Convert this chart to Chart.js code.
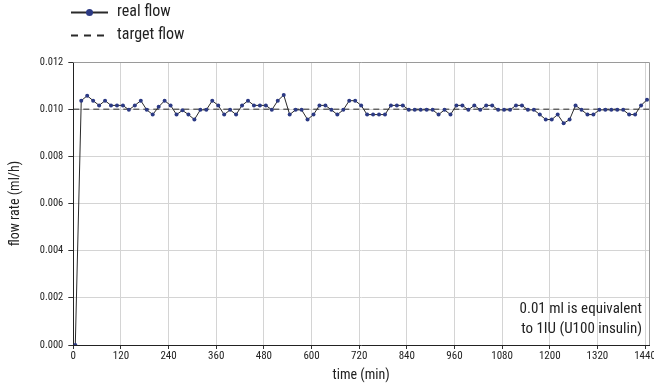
<!DOCTYPE html>
<html lang="en">
<head>
  <meta charset="UTF-8">
  <title>Flow rate</title>
  <script src="https://cdn.jsdelivr.net/npm/chart.js"></script>
  <style>
    html, body { margin: 0; padding: 0; background: #fff; }
    #wrap { width: 654px; height: 386px; position: relative; }
  </style>
</head>
<body>
<div id="wrap"><canvas id="grafico"></canvas></div>

<script>
  // time of each reading (min)
  const timeMin = [
    5,
    20, 35, 50, 65, 80, 95, 110, 125, 140, 155,
    170, 185, 200, 215, 230, 245, 260, 275, 290, 305,
    320, 335, 350, 365, 380, 395, 410, 425, 440, 455,
    470, 485, 500, 515, 530, 545, 560, 575, 590, 605,
    620, 635, 650, 665, 680, 695, 710, 725, 740, 755,
    770, 785, 800, 815, 830, 845, 860, 875, 890, 905,
    920, 935, 950, 965, 980, 995, 1010, 1025, 1040, 1055,
    1070, 1085, 1100, 1115, 1130, 1145, 1160, 1175, 1190, 1205,
    1220, 1235, 1250, 1265, 1280, 1295, 1310, 1325, 1340, 1355,
    1370, 1385, 1400, 1415, 1430, 1445
  ];
  // real flow (ml/h)
  const realFlow = [
    0,
    0.01036, 0.01057, 0.01036, 0.01016, 0.01036, 0.01016, 0.01016, 0.01016, 0.00997, 0.01016,
    0.01036, 0.00997, 0.00977, 0.01010, 0.01036, 0.01016, 0.00977, 0.00995, 0.00977, 0.00956,
    0.00997, 0.00997, 0.01036, 0.01016, 0.00977, 0.00997, 0.00977, 0.01016, 0.01036, 0.01016,
    0.01016, 0.01016, 0.00997, 0.01036, 0.01060, 0.00977, 0.00997, 0.00997, 0.00956, 0.00977,
    0.01016, 0.01016, 0.00997, 0.00977, 0.00997, 0.01036, 0.01036, 0.01016, 0.00977, 0.00977,
    0.00977, 0.00977, 0.01016, 0.01016, 0.01016, 0.00997, 0.00997, 0.00997, 0.00997, 0.00997,
    0.00977, 0.00997, 0.00977, 0.01016, 0.01016, 0.00997, 0.01016, 0.00997, 0.01016, 0.01016,
    0.00997, 0.00997, 0.00997, 0.01016, 0.01016, 0.00997, 0.00997, 0.00977, 0.00956, 0.00956,
    0.00977, 0.00940, 0.00956, 0.01016, 0.00997, 0.00977, 0.00977, 0.00997, 0.00997, 0.00997,
    0.00997, 0.00997, 0.00977, 0.00977, 0.01016, 0.01040
  ];
  const targetTime = [0, 1450];
  const targetFlow = [0.010, 0.010];

  const xTicks = [0, 120, 240, 360, 480, 600, 720, 840, 960, 1080, 1200, 1320, 1440];
  const yTicks = [0, 0.002, 0.004, 0.006, 0.008, 0.010, 0.012];

  const nota = ["0.01 ml is equivalent", "to 1IU (U100 insulin)"];

  const FUENTE = "'Roboto Condensed', 'Liberation Sans Narrow', 'DejaVu Sans Condensed', 'Liberation Sans', sans-serif";
  const AZUL = "#2c3a84";
  const LINEA = "#2a2a2a";

  const extras = {
    id: "extras",
    afterDraw(chart) {
      const ctx = chart.ctx;
      const a = chart.chartArea;
      ctx.save();
      // marco derecho / superior
      ctx.strokeStyle = "#9a9a9a";
      ctx.lineWidth = 1;
      ctx.beginPath();
      ctx.moveTo(a.left, a.top + 0.5);
      ctx.lineTo(a.right + 0.5, a.top + 0.5);
      ctx.lineTo(a.right + 0.5, a.bottom);
      ctx.stroke();

      // leyenda
      ctx.strokeStyle = LINEA;
      ctx.lineWidth = 2;
      ctx.beginPath();
      ctx.moveTo(71, 12.5);
      ctx.lineTo(108, 12.5);
      ctx.stroke();
      ctx.fillStyle = AZUL;
      ctx.beginPath();
      ctx.arc(89.5, 12.5, 3.5, 0, Math.PI * 2);
      ctx.fill();
      ctx.setLineDash([7, 6]);
      ctx.beginPath();
      ctx.moveTo(71, 35.5);
      ctx.lineTo(110, 35.5);
      ctx.stroke();
      ctx.setLineDash([]);
      ctx.fillStyle = "#222";
      ctx.font = "condensed 16px " + FUENTE;
      ctx.textBaseline = "middle";
      ctx.textAlign = "left";
      ctx.fillText("real flow", 117, 12);
      ctx.fillText("target flow", 117, 35);

      // nota
      ctx.textAlign = "right";
      ctx.font = "condensed 15px " + FUENTE;
      ctx.fillText(nota[0], a.right - 7, 309);
      ctx.fillText(nota[1], a.right - 7, 329);
      ctx.restore();
    }
  };

  new Chart(document.getElementById("grafico"), {
    type: "line",
    data: {
      datasets: [
        {
          label: "real flow",
          data: timeMin.map((t, i) => ({ x: t, y: realFlow[i] })),
          borderColor: LINEA,
          borderWidth: 1,
          pointRadius: 2,
          pointBackgroundColor: AZUL,
          pointBorderWidth: 0,
          tension: 0
        },
        {
          label: "target flow",
          data: targetTime.map((t, i) => ({ x: t, y: targetFlow[i] })),
          borderColor: LINEA,
          borderWidth: 1,
          borderDash: [6, 4],
          pointRadius: 0
        }
      ]
    },
    options: {
      responsive: true,
      maintainAspectRatio: false,
      animation: false,
      layout: { padding: { top: 62, right: 5, left: 3, bottom: 0 } },
      plugins: { legend: { display: false }, tooltip: { enabled: false } },
      scales: {
        x: {
          type: "linear",
          min: 0,
          max: 1450,
          afterBuildTicks: s => { s.ticks = xTicks.map(v => ({ value: v })); },
          afterFit: s => { s.paddingRight = 0; s.paddingLeft = 0; },
          ticks: { font: { family: FUENTE, size: 11, style: "condensed" }, color: "#222", maxRotation: 0, padding: 1, callback: v => String(v) },
          grid: { color: "#d4d4d4", tickColor: "#333", tickLength: 4 },
          border: { color: "#222", width: 1 },
          title: { display: true, text: "time (min)", font: { family: FUENTE, size: 14, style: "condensed" }, color: "#222", padding: { top: 3, bottom: 2 } }
        },
        y: {
          min: 0,
          max: 0.012,
          afterBuildTicks: s => { s.ticks = yTicks.map(v => ({ value: v })); },
          ticks: { font: { family: FUENTE, size: 10.5, style: "condensed" }, color: "#222", padding: 5, callback: v => v.toFixed(3) },
          grid: { color: "#d4d4d4", tickColor: "#333", tickLength: 5 },
          border: { color: "#222", width: 1 },
          title: { display: true, text: "flow rate (ml/h)", font: { family: FUENTE, size: 14, style: "condensed" }, color: "#222", padding: { bottom: 11 } }
        }
      }
    },
    plugins: [extras]
  });
</script>
</body>
</html>
